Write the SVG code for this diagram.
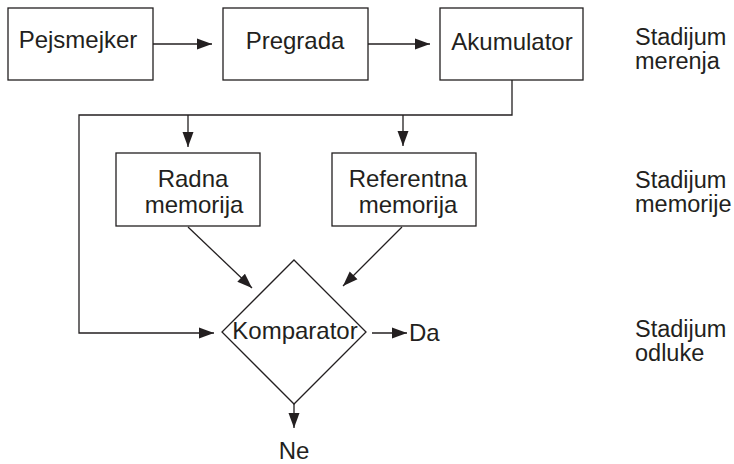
<svg xmlns="http://www.w3.org/2000/svg" width="734" height="464" viewBox="0 0 734 464">
<style>
.box{fill:#fff;stroke:#231f20;stroke-width:1.3}
.ln{fill:none;stroke:#231f20;stroke-width:1.3}
text{font-family:"Liberation Sans",Arial,sans-serif;font-size:24px;fill:#231f20}
.c{text-anchor:middle}
.s{font-size:23.5px}
</style>
<defs>
<marker id="ah" markerUnits="userSpaceOnUse" markerWidth="16" markerHeight="12" refX="15" refY="6" orient="auto">
<path d="M0,0.5 L15,6 L0,11.5 z" fill="#231f20"/>
</marker>
</defs>
<rect width="734" height="464" fill="#fff"/>
<g id="connectors">
<line class="ln" x1="153" y1="44" x2="212" y2="44" marker-end="url(#ah)"/>
<line class="ln" x1="368" y1="44" x2="430" y2="44" marker-end="url(#ah)"/>
<polyline class="ln" points="512,80 512,115 79,115 79,333 214,333" marker-end="url(#ah)"/>
<line class="ln" x1="188" y1="115" x2="188" y2="147" marker-end="url(#ah)"/>
<line class="ln" x1="403" y1="115" x2="403" y2="146" marker-end="url(#ah)"/>
<line class="ln" x1="188" y1="227" x2="252" y2="288" marker-end="url(#ah)"/>
<line class="ln" x1="402" y1="227" x2="343" y2="286" marker-end="url(#ah)"/>
<line class="ln" x1="372" y1="333" x2="407" y2="333" marker-end="url(#ah)"/>
<line class="ln" x1="294" y1="404" x2="294" y2="428" marker-end="url(#ah)"/>
</g>
<g id="pejsmejker"><rect class="box" x="8" y="8" width="145" height="72"/><text class="c" x="78" y="48">Pejsmejker</text></g>
<g id="pregrada"><rect class="box" x="223" y="8" width="145" height="72"/><text class="c" x="295" y="49">Pregrada</text></g>
<g id="akumulator"><rect class="box" x="440" y="8" width="143" height="72"/><text class="c" x="512" y="50">Akumulator</text></g>
<g id="radna"><rect class="box" x="116" y="153" width="144" height="73"/><text class="c" x="193" y="187">Radna</text><text class="c" x="194" y="213">memorija</text></g>
<g id="referentna"><rect class="box" x="332" y="153" width="144" height="73"/><text class="c" x="408" y="187">Referentna</text><text class="c" x="408" y="213">memorija</text></g>
<g id="komparator"><polygon class="box" points="294,260 366,332 294,404 222,332"/><text class="c" x="295" y="339">Komparator</text></g>
<g id="da"><text x="409" y="341">Da</text></g>
<g id="ne"><text class="c" x="294" y="459">Ne</text></g>
<g id="stages">
<text class="s" x="635" y="45">Stadijum</text><text class="s" x="635" y="69">merenja</text>
<text class="s" x="635" y="188">Stadijum</text><text class="s" x="635" y="212">memorije</text>
<text class="s" x="635" y="337">Stadijum</text><text class="s" x="635" y="361">odluke</text>
</g>
</svg>
